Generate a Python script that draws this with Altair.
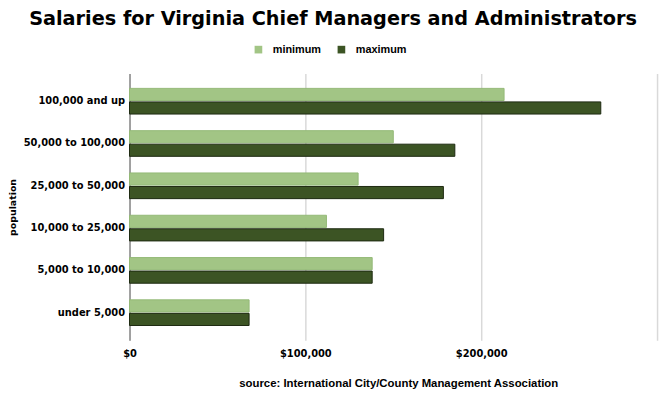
import altair as alt
import pandas as pd

categories = ["100,000 and up", "50,000 to 100,000", "25,000 to 50,000",
              "10,000 to 25,000", "5,000 to 10,000", "under 5,000"]
minimum = [213000, 150000, 130000, 112000, 138000, 68000]
maximum = [268000, 185000, 178500, 144500, 138000, 68000]
series = ["minimum", "maximum"]
x_ticks = [0, 100000, 200000, 300000]

rows = []
for c, mn, mx in zip(categories, minimum, maximum):
    rows.append({"population": c, "series": "minimum", "salary": mn})
    rows.append({"population": c, "series": "maximum", "salary": mx})
df = pd.DataFrame(rows)

FONT = "DejaVu Sans"
FONT2 = "Liberation Sans"

chart = alt.Chart(df).mark_bar(strokeWidth=1).encode(
    y=alt.Y("population:N", sort=categories,
            scale=alt.Scale(paddingInner=0.393, paddingOuter=0.35),
            axis=alt.Axis(title="population", labelFont=FONT, labelFontWeight="bold",
                          labelFontSize=10, labelColor="#000", labelPadding=5,
                          ticks=False, domainColor="#8a8a8a", domainWidth=1.5,
                          titleFont=FONT, titleFontWeight="bold", titleFontSize=9.5,
                          titleColor="#000", titlePadding=6)),
    x=alt.X("salary:Q", scale=alt.Scale(domain=[0, 300000], nice=False),
            axis=alt.Axis(title="source: International City/County Management Association",
                          values=x_ticks, format="$,.0f",
                          labelExpr="datum.value >= 300000 ? '' : datum.label",
                          labelFont=FONT, labelFontWeight="bold", labelFontSize=10,
                          labelColor="#000", labelPadding=8, ticks=False, domain=False,
                          grid=True, gridColor="#d9d9d9", gridWidth=1.5,
                          labelFlush=False,
                          titleFont=FONT2, titleFontWeight="bold", titleFontSize=11.5,
                          titleColor="#000", titleX=272, titleAlign="center",
                          titleY=44, titleBaseline="middle")),
    yOffset=alt.YOffset("series:N", sort=series, scale=alt.Scale(paddingInner=0.1)),
    color=alt.Color("series:N", sort=series,
                    scale=alt.Scale(domain=series, range=["#a2c585", "#3c5424"]),
                    legend=alt.Legend(title=None, orient="none", direction="horizontal",
                                      legendX=125, legendY=-30, symbolType="square",
                                      symbolSize=60, symbolStrokeWidth=0,
                                      labelFont=FONT2, labelFontWeight="bold",
                                      labelFontSize=11, labelColor="#000",
                                      columnPadding=15, labelOffset=9)),
    stroke=alt.Stroke("series:N", sort=series,
                      scale=alt.Scale(domain=series, range=["#93b977", "#1c2910"]),
                      legend=None),
).properties(
    width=534, height=270,
    autosize=alt.AutoSizeParams(type="none"),
    padding={"left": 123, "top": 64, "right": 5, "bottom": 55},
    title=alt.TitleParams("Salaries for Virginia Chief Managers and Administrators",
                          font=FONT, fontSize=19.5, fontWeight="bold", color="#000",
                          anchor="middle", dx=-61, offset=15),
).configure_view(stroke=None)

chart.save("out.html", embed_options={"renderer": "svg", "actions": False})
